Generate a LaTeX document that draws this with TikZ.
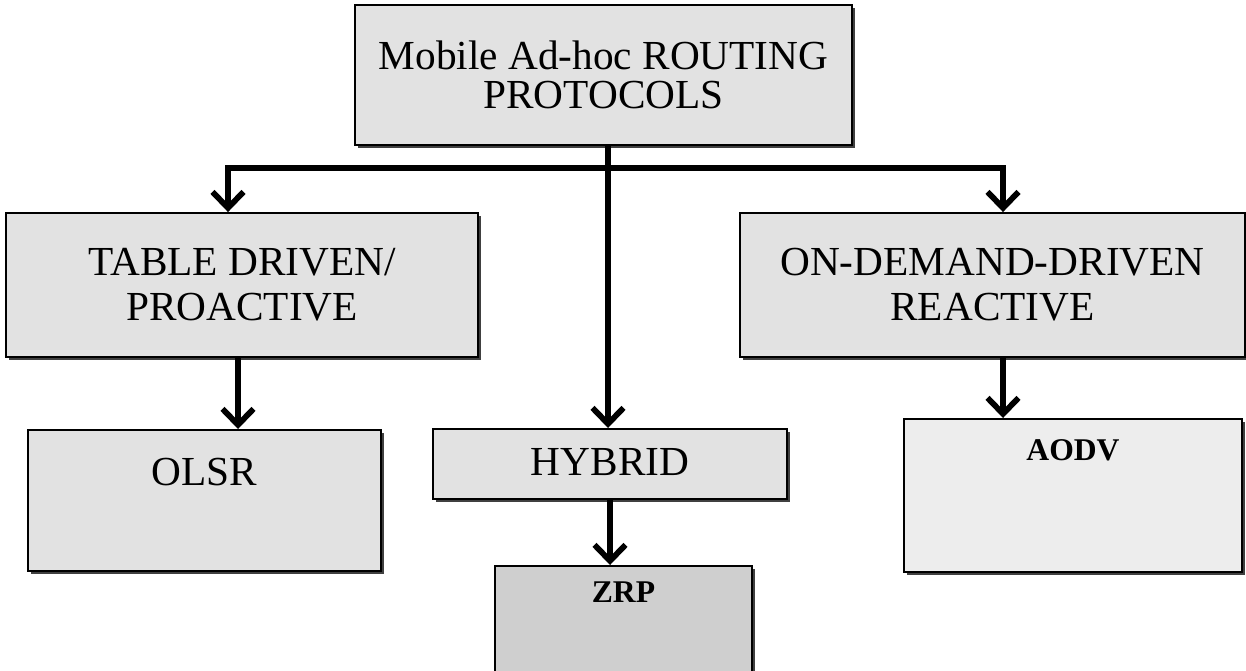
\documentclass[tikz,border=0pt]{standalone}
\usepackage{fontspec}
\setmainfont{Liberation Serif}
\usetikzlibrary{arrows.meta,shadows}
\definecolor{boxgrey}{HTML}{E2E2E2}
\definecolor{boxdeep}{HTML}{CFCFCF}
\definecolor{boxpale}{HTML}{EDEDED}

\begin{document}
\begin{tikzpicture}[
  x=0.02cm,y=-0.02cm,
  >={Straight Barb[length=3.2mm,width=6.2mm]},
  link/.style={line width=3.3pt},
  arrow/.style={link,->},
  box/.style={draw=black,line width=1.1pt,fill=boxgrey,inner sep=0pt,
              drop shadow={shadow xshift=0.06cm,shadow yshift=-0.06cm,
                           opacity=1,fill=black!75}},
  bigtext/.style={font=\fontsize{23.5}{25.6}\selectfont},
  boldtext/.style={font=\fontsize{18}{20}\selectfont\bfseries}
]
\useasboundingbox (0,0) rectangle (1246,670);

% Root
\node[box,font=\fontsize{23.5}{22}\selectfont,align=center,
      minimum width=9.94cm,minimum height=2.8cm] (top) at (603.5,75)
  {Mobile Ad-hoc ROUTING\\PROTOCOLS};

% Protocol classes
\node[box,bigtext,align=center,minimum width=9.44cm,minimum height=2.88cm]
  (table) at (242,285) {TABLE DRIVEN/\\PROACTIVE};
\node[box,bigtext,align=center,minimum width=10.1cm,minimum height=2.88cm]
  (ondemand) at (992.5,285) {ON-DEMAND-DRIVEN\\REACTIVE};
\node[box,bigtext,minimum width=7.08cm,text height=0.94cm,text depth=0.46cm,
      anchor=north] (hybrid) at (610,428) {HYBRID};

% Protocols
\node[box,bigtext,minimum width=7.06cm,text height=1.12cm,text depth=1.7cm,
      anchor=north] (olsr) at (204.5,429) {OLSR};
\node[box,boldtext,fill=boxpale,minimum width=6.76cm,text height=0.84cm,
      text depth=2.22cm,anchor=north] (aodv) at (1073,418) {AODV};
\node[box,boldtext,fill=boxdeep,minimum width=5.14cm,text height=0.74cm,
      text depth=1.4cm,anchor=north] (zrp) at (623.5,565) {ZRP};

% Arrows
\coordinate (bus) at (608,168);
\coordinate (tdown) at ([xshift=-0.08cm]table.south);
\coordinate (odown) at ([xshift=0.21cm]ondemand.south);
\draw[link] (top.south -| bus) -- (bus);
\draw[arrow] (bus) -| ([xshift=-0.28cm]table.north);
\draw[arrow] (bus) -| ([xshift=0.21cm]ondemand.north);
\draw[arrow] (bus) -- (bus |- hybrid.north);
\draw[arrow] (tdown) -- (tdown |- olsr.north);
\draw[arrow] (odown) -- (odown |- aodv.north);
\draw[arrow] (hybrid.south) -- (hybrid.south |- zrp.north);

\end{tikzpicture}
\end{document}
